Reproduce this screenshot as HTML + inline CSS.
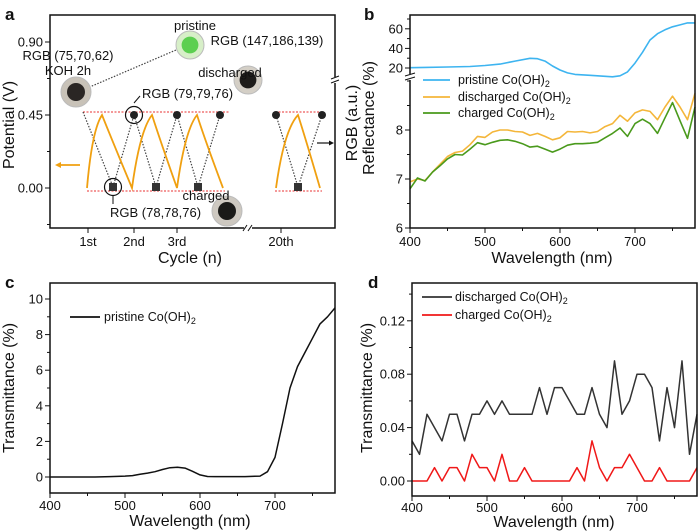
<!DOCTYPE html>
<html><head><meta charset="utf-8">
<style>
html,body{margin:0;padding:0;background:#fff;}
svg{display:block;font-family:"Liberation Sans",Arial,sans-serif;}
</style></head>
<body>
<svg id="fig" width="700" height="532" viewBox="0 0 700 532" xmlns="http://www.w3.org/2000/svg"></svg>
<script>
// ---- Panel b data ----
const wlB = [400,410,420,430,440,450,460,470,480,490,500,510,520,530,540,550,560,570,580,590,600,610,620,630,640,650,660,670,680,690,700,710,720,730,740,750,760,770,780];
const dischargedB = [6.94,7.0,6.97,7.14,7.3,7.46,7.54,7.57,7.7,7.87,7.85,7.96,8.0,8.0,7.97,7.96,7.89,7.93,7.87,7.8,7.84,7.97,7.96,7.97,7.94,7.97,8.07,8.13,8.3,8.18,8.35,8.41,8.38,8.21,8.47,8.69,8.47,8.21,8.75];
const chargedB = [6.8,7.02,6.96,7.14,7.27,7.41,7.5,7.49,7.61,7.74,7.7,7.75,7.79,7.8,7.77,7.72,7.65,7.67,7.61,7.55,7.61,7.69,7.72,7.72,7.73,7.75,7.84,7.93,8.04,7.87,8.13,8.22,8.13,7.93,8.25,8.56,8.19,7.83,8.47];
const wlBlue = [400,420,450,480,500,520,540,560,570,580,590,600,610,620,640,660,670,680,690,700,710,720,730,740,750,760,770,780];
const pristineB = [20.3,20.6,21,21.5,22.5,24,27,29.9,29.5,27,22,18,15,13.5,12.5,11.5,11,12,16,25,36,48.6,55,59,62,64,66,66];
const bTopTicks = [20,40,60];
const bBotTicks = [6,7,8];
// ---- Panel c data ----
const wlC = [400,420,440,460,480,500,510,520,530,540,550,560,570,580,590,600,610,620,640,660,680,690,700,710,720,730,740,750,760,770,780];
const pristineC = [0,0,0,0,0.02,0.05,0.08,0.15,0.22,0.3,0.42,0.52,0.55,0.5,0.32,0.12,0.03,0.02,0.02,0.02,0.05,0.3,1.1,3,5,6.2,7,7.8,8.6,9,9.5];
const cTicks = [0,2,4,6,8,10];
// ---- Panel d data ----
const wlD = [400,410,420,430,440,450,460,470,480,490,500,510,520,530,540,550,560,570,580,590,600,610,620,630,640,650,660,670,680,690,700,710,720,730,740,750,760,770,780];
const dischargedD = [0.03,0.02,0.05,0.04,0.03,0.05,0.05,0.03,0.05,0.05,0.06,0.05,0.06,0.05,0.05,0.05,0.05,0.07,0.05,0.07,0.07,0.06,0.05,0.05,0.07,0.05,0.04,0.09,0.05,0.06,0.08,0.08,0.07,0.03,0.07,0.04,0.09,0.02,0.05];
const chargedD = [0,0,0,0.01,0,0.01,0.01,0,0.02,0.01,0.01,0,0.02,0,0,0.01,0,0,0,0,0,0,0.01,0,0.03,0.01,0,0.01,0.01,0.02,0.01,0,0,0.01,0,0,0,0,0.01];
const dTicks = [0,0.04,0.08,0.12];
const dTickLabels = ["0.00","0.04","0.08","0.12"];
const xTicks = [400,500,600,700];
// ---- Panel a data ----
const aYTicks = [0,0.45,0.9];
const aYLabels = ["0.00","0.45","0.90"];
const cycleLabels = ["1st","2nd","3rd","20th"];

const svg = document.getElementById('fig');
const NS = 'http://www.w3.org/2000/svg';
function mk(tag, attrs, parent){const e=document.createElementNS(NS,tag);for(const k in attrs)e.setAttribute(k,attrs[k]);(parent||svg).appendChild(e);return e;}
function txt(x,y,s,size,anchor,parent,extra){const t=mk('text',Object.assign({x:x,y:y,'font-size':size,'text-anchor':anchor||'middle',fill:'#111'},extra||{}),parent);t.innerHTML=s;return t;}
function poly(xs,ys,fx,fy,color,w,parent){let d='';for(let i=0;i<xs.length;i++){d+=(i?'L':'M')+fx(xs[i]).toFixed(1)+' '+fy(ys[i]).toFixed(1);}return mk('path',{d:d,fill:'none',stroke:color,'stroke-width':w,'stroke-linejoin':'round'},parent);}
const TK=13, TT=16;

// ================= Panel b =================
const gb = mk('g',{});


const bx = v => 410 + (v-400)*0.75;
const byTop = v => 68 - (v-20)*0.98;
const byBot = v => 228 - (v-6)*49;
poly(wlBlue,pristineB,bx,byTop,'#3db4f0',1.6,gb);
poly(wlB,dischargedB,bx,byBot,'#f4b63a',1.6,gb);
poly(wlB,chargedB,bx,byBot,'#4a9a1c',1.6,gb);
mk('rect',{x:410,y:15,width:285,height:213,fill:'none',stroke:'#111','stroke-width':1.5},gb);
mk('rect',{x:405,y:74,width:10,height:6,fill:'#fff'},gb);
mk('path',{d:'M405 76 L415 73 M405 80 L415 77',stroke:'#111','stroke-width':1},gb);
bTopTicks.forEach(v=>{mk('line',{x1:405,x2:410,y1:byTop(v),y2:byTop(v),stroke:'#111'},gb);txt(403,byTop(v)+4.5,String(v),TK,'end',gb);});
[30,50,70].forEach(v=>mk('line',{x1:407,x2:410,y1:byTop(v),y2:byTop(v),stroke:'#111'},gb));
bBotTicks.forEach(v=>{mk('line',{x1:405,x2:410,y1:byBot(v),y2:byBot(v),stroke:'#111'},gb);txt(403,byBot(v)+4.5,String(v),TK,'end',gb);});
[6.5,7.5,8.5,9].forEach(v=>mk('line',{x1:407,x2:410,y1:byBot(v),y2:byBot(v),stroke:'#111'},gb));
xTicks.forEach(v=>{mk('line',{x1:bx(v),x2:bx(v),y1:228,y2:233,stroke:'#111'},gb);txt(bx(v),246,String(v),TK,'middle',gb);});
[450,550,650,750].forEach(v=>mk('line',{x1:bx(v),x2:bx(v),y1:228,y2:231,stroke:'#111'},gb));
txt(552,263,'Wavelength (nm)',TT,'middle',gb);
const rl=txt(0,0,'Reflectance (%)',TT,'middle',gb,{transform:'translate(374,118) rotate(-90)'});

const rg=txt(0,0,'RGB (a.u.)',TT,'middle',gb,{transform:'translate(357,123) rotate(-90)'});

[['#3db4f0','pristine Co(OH)<tspan font-size="9" dy="3">2</tspan>',80],['#f4b63a','discharged Co(OH)<tspan font-size="9" dy="3">2</tspan>',97],['#4a9a1c','charged Co(OH)<tspan font-size="9" dy="3">2</tspan>',113]].forEach(l=>{
  const le=mk('g',{},gb);
  
  
  mk('line',{x1:423,x2:450,y1:l[2],y2:l[2],stroke:l[0],'stroke-width':1.8},le);
  txt(458,l[2]+4,l[1],12.5,'start',le);
});
txt(364,20,'b',17,'start',gb,{'font-weight':'bold'});

// ================= Panel c =================
const gc = mk('g',{});


const cx = v => 50 + (v-400)*0.75;
const cy = v => 477 - v*17.8;
poly(wlC,pristineC,cx,cy,'#111',1.5,gc);
mk('rect',{x:50,y:283,width:285,height:210,fill:'none',stroke:'#111','stroke-width':1.5},gc);
cTicks.forEach(v=>{mk('line',{x1:45,x2:50,y1:cy(v),y2:cy(v),stroke:'#111'},gc);txt(43,cy(v)+4.5,String(v),TK,'end',gc);});
[1,3,5,7,9].forEach(v=>mk('line',{x1:47,x2:50,y1:cy(v),y2:cy(v),stroke:'#111'},gc));
xTicks.forEach(v=>{mk('line',{x1:cx(v),x2:cx(v),y1:493,y2:498,stroke:'#111'},gc);txt(cx(v),510,String(v),TK,'middle',gc);});
[450,550,650,750].forEach(v=>mk('line',{x1:cx(v),x2:cx(v),y1:493,y2:496,stroke:'#111'},gc));
txt(190,526,'Wavelength (nm)',TT,'middle',gc);
txt(0,0,'Transmittance (%)',TT,'middle',gc,{transform:'translate(14,388) rotate(-90)'});
const lc=mk('g',{},gc);


mk('line',{x1:70,x2:100,y1:317,y2:317,stroke:'#111','stroke-width':1.8},lc);
txt(104,321,'pristine Co(OH)<tspan font-size="9" dy="3">2</tspan>',12.5,'start',lc);
txt(5,288,'c',17,'start',gc,{'font-weight':'bold'});

// ================= Panel d =================
const gd = mk('g',{});


const dx = v => 412 + (v-400)*0.75;
const dy = v => 481 - v*1335;
poly(wlD,dischargedD,dx,dy,'#333',1.5,gd);
poly(wlD,chargedD,dx,dy,'#f01818',1.5,gd);
mk('rect',{x:412,y:283,width:285,height:213,fill:'none',stroke:'#111','stroke-width':1.5},gd);
dTicks.forEach((v,i)=>{mk('line',{x1:407,x2:412,y1:dy(v),y2:dy(v),stroke:'#111'},gd);txt(405,dy(v)+4.5,dTickLabels[i],TK,'end',gd);});
[0.02,0.06,0.1,0.14].forEach(v=>mk('line',{x1:409,x2:412,y1:dy(v),y2:dy(v),stroke:'#111'},gd));
xTicks.forEach(v=>{mk('line',{x1:dx(v),x2:dx(v),y1:496,y2:501,stroke:'#111'},gd);txt(dx(v),512,String(v),TK,'middle',gd);});
[450,550,650,750].forEach(v=>mk('line',{x1:dx(v),x2:dx(v),y1:496,y2:499,stroke:'#111'},gd));
txt(554,527,'Wavelength (nm)',TT,'middle',gd);
txt(0,0,'Transmittance (%)',TT,'middle',gd,{transform:'translate(372,388) rotate(-90)'});
[['#333','discharged Co(OH)<tspan font-size="9" dy="3">2</tspan>',297],['#f01818','charged Co(OH)<tspan font-size="9" dy="3">2</tspan>',315]].forEach(l=>{
  const le=mk('g',{},gd);
  
  
  mk('line',{x1:422,x2:452,y1:l[2],y2:l[2],stroke:l[0],'stroke-width':1.8},le);
  txt(455,l[2]+4,l[1],12.5,'start',le);
});
txt(368,288,'d',17,'start',gd,{'font-weight':'bold'});

// ================= Panel a =================
const ga = mk('g',{});


const ay = v => 188 - v*(73/0.45);
mk('rect',{x:50,y:15,width:285,height:213,fill:'none',stroke:'#111','stroke-width':1.5},ga);
mk('rect',{x:244,y:224,width:8,height:8,fill:'#fff'},ga);
mk('path',{d:'M243 231 L247 225 M248 231 L252 225',stroke:'#111','stroke-width':1},ga);
mk('rect',{x:331,y:77,width:8,height:6,fill:'#fff'},ga);
mk('path',{d:'M331 79 L339 76 M331 83 L339 80',stroke:'#111','stroke-width':1},ga);
aYTicks.forEach((v,i)=>{mk('line',{x1:45,x2:50,y1:ay(v),y2:ay(v),stroke:'#111'},ga);txt(43,ay(v)+4.5,aYLabels[i],TK,'end',ga);});
[-0.225,0.225,0.675].forEach(v=>mk('line',{x1:47,x2:50,y1:ay(v),y2:ay(v),stroke:'#111'},ga));
[88,134,177,281].forEach((x,i)=>{mk('line',{x1:x,x2:x,y1:228,y2:233,stroke:'#111'},ga);txt(x,246,cycleLabels[i],TK,'middle',ga);});
txt(190,263,'Cycle (n)',TT,'middle',ga);
txt(0,0,'Potential (V)',TT,'middle',ga,{transform:'translate(14,125) rotate(-90)'});
mk('path',{d:'M83 112 H230 M275 112 H322 M87 191 H225 M275 191 H322',stroke:'#e83030','stroke-width':1,'stroke-dasharray':'2 1.5',fill:'none'},ga);
mk('path',{d:'M83 112 L113 187 L134 115 L156 187 L177 115 L198 187 L220 115 M276 115 L298 187 L322 115 M78 92 L176 50',stroke:'#444','stroke-width':1.2,'stroke-dasharray':'1.5 1.5',fill:'none'},ga);
const og=mk('path',{d:'M87 188 Q92 130 102 115 Q112 140 132 188 Q140 130 152 115 Q160 140 177 188 Q185 130 197 115 Q205 140 223 188 M276 188 Q284 130 298 115 Q306 140 320 188',stroke:'#f0a010','stroke-width':1.8,fill:'none'},ga);

[134,177,220,276,322].forEach(x=>mk('circle',{cx:x,cy:115,r:4,fill:'#222'},ga));
[113,156,198,298].forEach(x=>mk('rect',{x:x-4,y:183,width:8,height:8,fill:'#333'},ga));
mk('circle',{cx:134,cy:115,r:8.5,fill:'none',stroke:'#111','stroke-width':1.2},ga);
mk('circle',{cx:113,cy:187,r:8.5,fill:'none',stroke:'#111','stroke-width':1.2},ga);
function photo(x,y,r,ring,core,name){const p=mk('g',{},ga);mk('circle',{cx:x,cy:y,r:r,fill:ring,stroke:'#bbb','stroke-width':1},p);mk('circle',{cx:x,cy:y,r:r*0.6,fill:core},p);}
photo(190,45,14,'#d7efc8','#5ccf50','pristine-photo');
photo(76,92,15,'#c8c2b8','#2a2624','koh-photo');
photo(248,80,14,'#d4cfc6','#1e1c1a','discharged-photo');
photo(227,211,15,'#cdc8c0','#1a1a18','charged-photo');
mk('path',{d:'M80 165 H58',stroke:'#f0a010','stroke-width':1.8},ga);
mk('path',{d:'M55 165 L61 162 L61 168 Z',fill:'#f0a010'},ga);
mk('path',{d:'M317 143 H330',stroke:'#111','stroke-width':1.2},ga);
mk('path',{d:'M334 143 L329 140.5 L329 145.5 Z',fill:'#111'},ga);
mk('path',{d:'M140 96 L134 103',stroke:'#111','stroke-width':1},ga);
mk('path',{d:'M113 196 V204',stroke:'#111','stroke-width':1},ga);
txt(195,30,'pristine',13,'middle',ga);
txt(267,45,'RGB (147,186,139)',13,'middle',ga);
txt(68,60,'RGB (75,70,62)',13,'middle',ga);
txt(68,75,'KOH 2h',13,'middle',ga);
txt(142,98,'RGB (79,79,76)',13,'start',ga);
txt(230,77,'discharged',13,'middle',ga);
txt(206,200,'charged',13,'middle',ga);
txt(110,217,'RGB (78,78,76)',13,'start',ga);
txt(5,20,'a',17,'start',ga,{'font-weight':'bold'});
</script>
</body></html>
